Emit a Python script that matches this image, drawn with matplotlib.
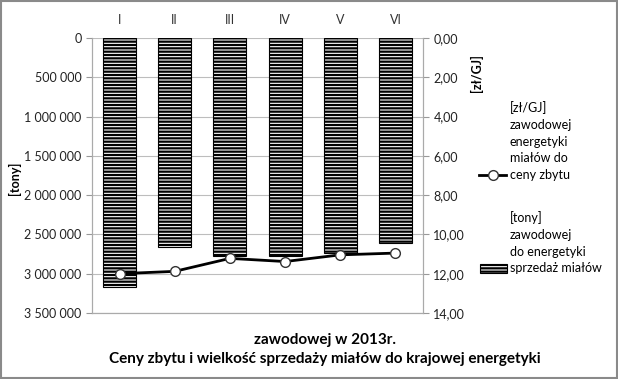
import matplotlib
matplotlib.use("Agg")
from matplotlib import pyplot as plt
from matplotlib.lines import Line2D
from matplotlib.patches import Rectangle
from matplotlib.ticker import FuncFormatter

plt.rcParams['font.family'] = ['Lato', 'DejaVu Sans']
plt.rcParams['hatch.linewidth'] = 1.6

miesiace = ["I", "II", "III", "IV", "V", "VI"]
sprzedaz = [3170000, 2655000, 2772000, 2772000, 2740000, 2612000]
ceny = [12.00, 11.88, 11.22, 11.38, 11.04, 10.95]

W, H = 618, 379
fig = plt.figure(figsize=(W / 100, H / 100), dpi=100)

def fx(px):
    return px / W

def fy(py):
    return 1 - py / H

ax = fig.add_axes([fx(92), fy(313), fx(423) - fx(92), fy(38) - fy(313)])
ax2 = ax.twinx()

x = range(len(miesiace))
ax.bar(x, sprzedaz, width=0.6, color="white", edgecolor="black",
       linewidth=0.8, hatch="-----", zorder=2)
ax.set_xlim(-0.5, len(miesiace) - 0.5)
ax.set_ylim(3500000, 0)
ax.set_yticks(range(0, 3500001, 500000))
ax.yaxis.set_major_formatter(FuncFormatter(lambda v, p: f"{int(v):,}".replace(",", " ")))
ax.grid(axis="y", color="#bdbdbd", linewidth=0.8, zorder=0)
ax.set_axisbelow(True)

ax.xaxis.tick_top()
ax.set_xticks(list(x))
ax.set_xticklabels(miesiace)
ax.tick_params(axis="x", length=0, pad=9, labelsize=9, colors="#333333")
ax.tick_params(axis="y", length=4, color="#999999", labelsize=9, labelcolor="#222222")

ax2.plot(list(x), ceny, color="black", linewidth=2, marker="o", markersize=7,
         markerfacecolor="white", markeredgecolor="#333333", markeredgewidth=1, zorder=3)
ax2.set_ylim(14, 0)
ax2.set_yticks(range(0, 15, 2))
ax2.yaxis.set_major_formatter(FuncFormatter(lambda v, p: f"{v:.2f}".replace(".", ",")))
ax2.tick_params(axis="y", length=4, color="#999999", labelsize=9, labelcolor="#222222")

for a in (ax, ax2):
    for s in a.spines.values():
        s.set_color("#aaaaaa")
        s.set_linewidth(0.8)
ax.spines["top"].set_visible(False)
ax2.spines["top"].set_visible(False)

fig.text(fx(14), fy(178), "[tony]", rotation=90, ha="center", va="center",
         fontsize=9, fontweight="bold")
fig.text(fx(476), fy(73), "[zł/GJ]", rotation=90, ha="center", va="center",
         fontsize=9, fontweight="bold")

# legenda
fig.add_artist(Line2D([fx(479), fx(506)], [fy(175), fy(175)], color="black", linewidth=2))
fig.add_artist(Line2D([fx(493)], [fy(175)], marker="o", markersize=7,
                      markerfacecolor="white", markeredgecolor="#333333"))
for i, t in enumerate(["[zł/GJ]", "zawodowej", "energetyki", "miałów do", "ceny zbytu"]):
    fig.text(fx(510), fy(108 + 16.8 * i), t, ha="left", va="center", fontsize=9)
fig.add_artist(Rectangle((fx(480), fy(273)), fx(27), fy(264) - fy(273),
                         facecolor="white", edgecolor="black", linewidth=0.8, hatch="-----"))
for i, t in enumerate(["[tony]", "zawodowej", "do energetyki", "sprzedaż miałów"]):
    fig.text(fx(510), fy(218 + 16.8 * i), t, ha="left", va="center", fontsize=9)

fig.text(fx(325), fy(340), "zawodowej w 2013r.", ha="center", va="center",
         fontsize=11, fontweight="bold")
fig.text(fx(325), fy(359), "Ceny zbytu i wielkość sprzedaży miałów do krajowej energetyki",
         ha="center", va="center", fontsize=11, fontweight="bold")

fig.add_artist(Rectangle((0.002, 0.003), 0.996, 0.994, fill=False,
                         edgecolor="#8a8a8a", linewidth=1.5))

fig.savefig("out.png", dpi=100)
